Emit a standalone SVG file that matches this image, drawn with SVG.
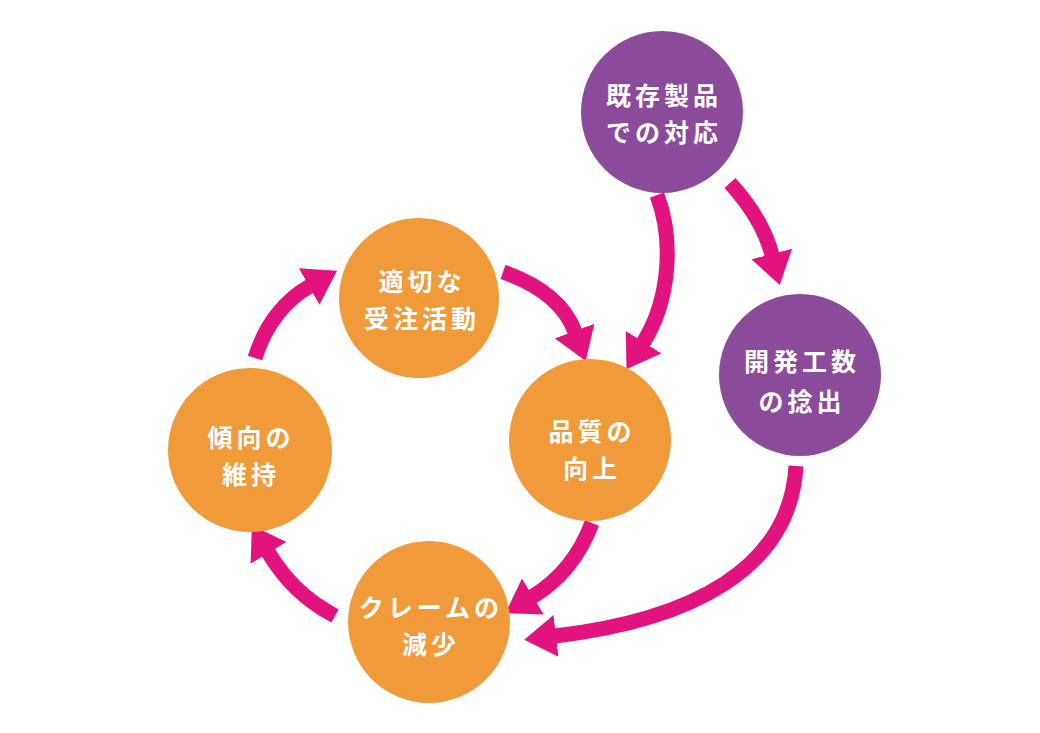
<svg xmlns="http://www.w3.org/2000/svg" width="1040" height="733" viewBox="0 0 1040 733">
<defs>
<style>
.purple{fill:#8C4A9B}
.orange{fill:#F09A3A}
.lbl{fill:#ffffff;font-family:"Noto Sans CJK JP","Noto Sans CJK SC",sans-serif;font-weight:bold;font-size:25px;letter-spacing:4px;text-anchor:middle;dominant-baseline:central}
.arr{fill:none;stroke:#E2127F;stroke-width:15;stroke-linecap:butt}
</style>
<marker id="head" markerUnits="userSpaceOnUse" viewBox="0 0 32 42" refX="1" refY="21" markerWidth="32" markerHeight="42" orient="auto">
<path d="M0,0 L32,21 L0,42 Z" fill="#E2127F"/>
</marker>
</defs>
<rect width="1040" height="733" fill="#ffffff"/>
<g id="connectors">
<path class="arr" marker-end="url(#head)" d="M255,358 C265,325 285,300 310,286"/>
<path class="arr" marker-end="url(#head)" d="M503,272 C540,285 565,305 575,332"/>
<path class="arr" marker-end="url(#head)" d="M657,195 C674,240 670,300 643,343"/>
<path class="arr" marker-end="url(#head)" d="M730,183 C750,205 765,228 772,255"/>
<path class="arr" marker-end="url(#head)" d="M796,466 C790,570 690,620 555,636"/>
<path class="arr" marker-end="url(#head)" d="M592,523 C580,555 560,580 532,597"/>
<path class="arr" marker-end="url(#head)" d="M335,616 C305,600 285,580 268,552"/>
</g>
<g id="node-kizon">
<circle class="purple" cx="662" cy="112" r="81"/>
<text class="lbl" x="664" y="94">既存製品</text>
<text class="lbl" x="664" y="131">での対応</text>
</g>
<g id="node-kaihatsu">
<circle class="purple" cx="800" cy="375" r="81"/>
<text class="lbl" x="802" y="360">開発工数</text>
<text class="lbl" x="802" y="400">の捻出</text>
</g>
<g id="node-juchu">
<circle class="orange" cx="419" cy="298" r="80"/>
<text class="lbl" x="422" y="280">適切な</text>
<text class="lbl" x="422" y="317">受注活動</text>
</g>
<g id="node-hinshitsu">
<circle class="orange" cx="590" cy="440" r="81"/>
<text class="lbl" x="592" y="430">品質の</text>
<text class="lbl" x="592" y="467">向上</text>
</g>
<g id="node-keikou">
<circle class="orange" cx="250" cy="450" r="82"/>
<text class="lbl" x="251" y="436">傾向の</text>
<text class="lbl" x="251" y="473">維持</text>
</g>
<g id="node-claim">
<circle class="orange" cx="429" cy="622" r="81"/>
<text class="lbl" x="431" y="606">クレームの</text>
<text class="lbl" x="431" y="643">減少</text>
</g>
</svg>
